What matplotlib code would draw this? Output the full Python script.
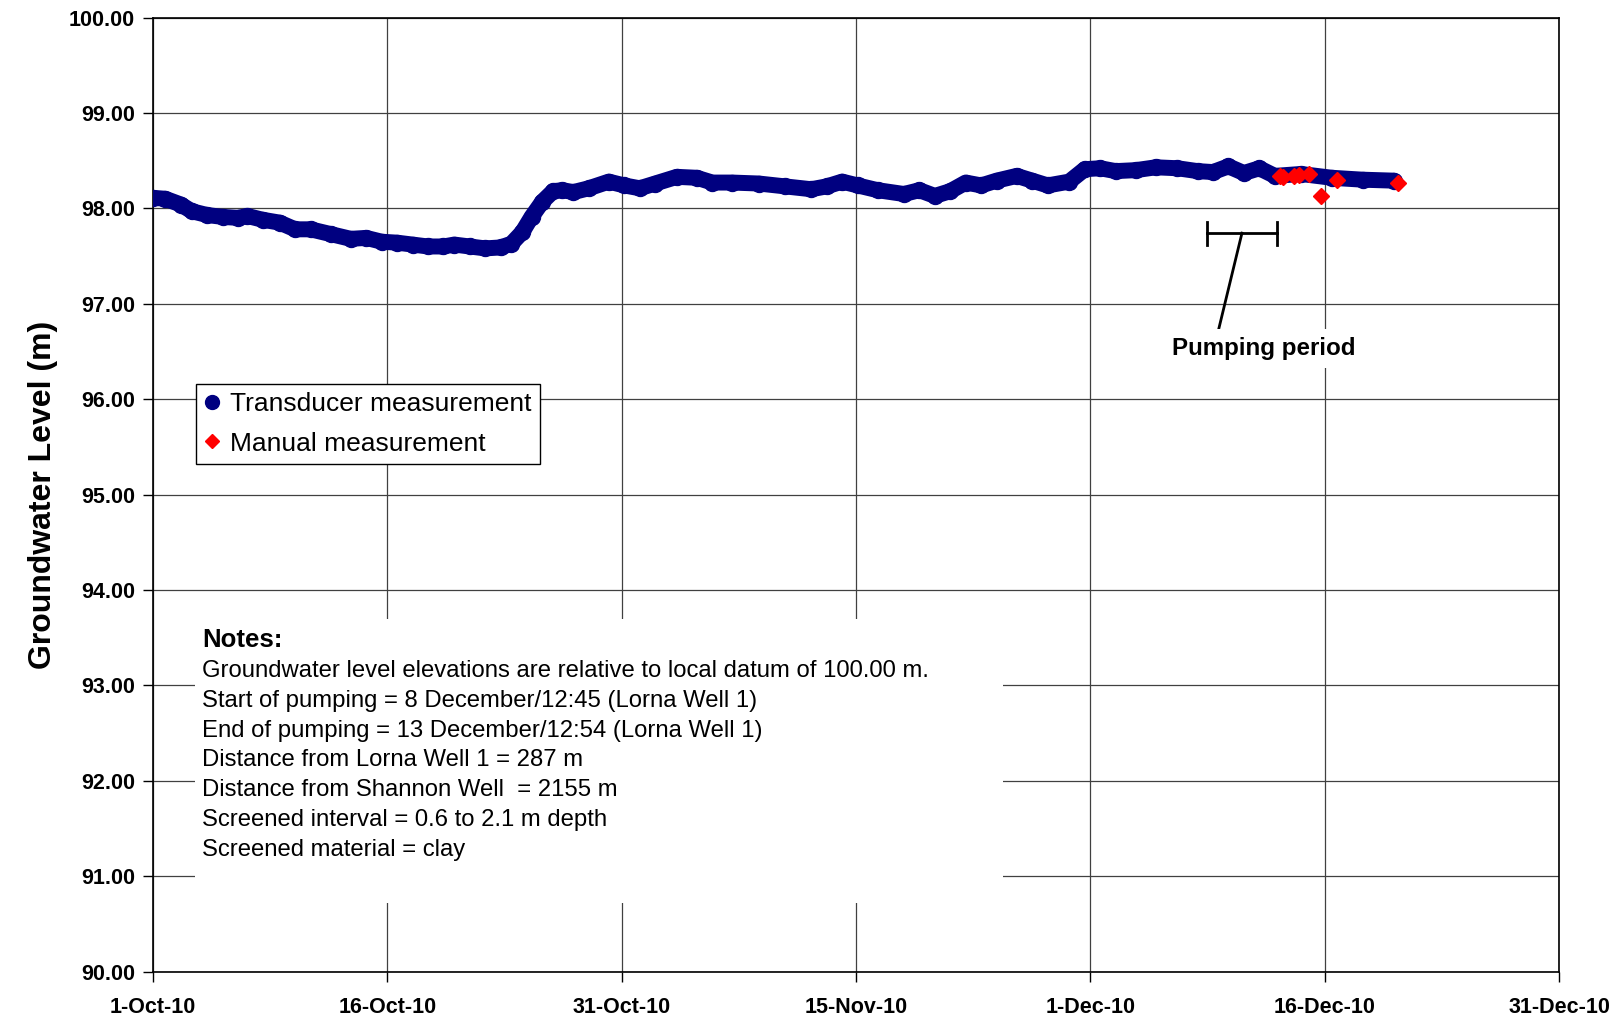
import matplotlib
matplotlib.use('Agg')
import matplotlib.pyplot as plt
from matplotlib.lines import Line2D
from matplotlib.patches import Rectangle

plt.rcParams['font.family'] = ['Liberation Sans', 'DejaVu Sans']

# days since 1-Oct-10 00:00
transducer_day = [0.0, 0.8, 1.8, 2.5, 3.5, 4.5, 5.5, 6.1, 7.1, 8.2, 9.2, 10.2,
                  11.5, 12.8, 13.8, 14.8, 15.8, 16.8, 17.8, 18.8, 19.5, 20.5,
                  21.5, 22.5, 23.2, 23.9, 24.5, 25.2, 25.9, 26.5, 27.2, 28.2,
                  29.5, 30.5, 31.5, 32.5, 33.9, 35.2, 36.2, 37.5, 39.2, 40.9,
                  42.6, 43.6, 44.6, 45.6, 46.9, 48.6, 49.6, 50.6, 51.6, 52.6,
                  53.6, 54.6, 55.9, 56.9, 57.9, 59.3, 60.3, 61.3, 62.3, 63.6,
                  64.9, 66.3, 67.6, 68.6, 69.6, 70.6, 71.6, 72.6, 74.3, 76.3,
                  78.3, 80.3]
transducer_level = [98.11, 98.10, 98.04, 97.97, 97.93, 97.91, 97.90, 97.92,
                    97.88, 97.85, 97.78, 97.78, 97.73, 97.68, 97.69, 97.65,
                    97.64, 97.62, 97.60, 97.60, 97.62, 97.60, 97.58, 97.59,
                    97.63, 97.75, 97.91, 98.07, 98.18, 98.19, 98.17, 98.21,
                    98.28, 98.24, 98.21, 98.26, 98.33, 98.32, 98.27, 98.27,
                    98.26, 98.23, 98.20, 98.23, 98.28, 98.24, 98.19, 98.15,
                    98.19, 98.13, 98.18, 98.27, 98.24, 98.29, 98.34, 98.29,
                    98.24, 98.28, 98.41, 98.42, 98.39, 98.40, 98.43, 98.42,
                    98.39, 98.38, 98.44, 98.37, 98.42, 98.34, 98.36, 98.32,
                    98.30, 98.29]

manual_day = [72.94, 73.11, 73.83, 74.16, 74.83, 75.61, 76.64, 80.57]
manual_level = [98.34, 98.33, 98.34, 98.35, 98.36, 98.13, 98.30, 98.27]

# pumping period bracket, as drawn on the chart (days)
pump_start = 68.2
pump_end = 72.75

tick_labels = ['1-Oct-10', '16-Oct-10', '31-Oct-10', '15-Nov-10',
               '1-Dec-10', '16-Dec-10', '31-Dec-10']

notes = ['Groundwater level elevations are relative to local datum of 100.00 m.',
         'Start of pumping = 8 December/12:45 (Lorna Well 1)',
         'End of pumping = 13 December/12:54 (Lorna Well 1)',
         'Distance from Lorna Well 1 = 287 m',
         'Distance from Shannon Well  = 2155 m',
         'Screened interval = 0.6 to 2.1 m depth',
         'Screened material = clay']

navy = '#000080'

fig = plt.figure(figsize=(16.19, 10.18), dpi=100)
ax = fig.add_axes([0.0945, 0.0456, 0.8685, 0.9372])

ax.plot(transducer_day, transducer_level, color=navy, lw=11.5, marker='o',
        ms=11.5, solid_capstyle='round', solid_joinstyle='round', zorder=3)
ax.plot(manual_day, manual_level, linestyle='none', marker='D', ms=8,
        color='#ff0000', mec='#ff0000', zorder=4)

ax.set_xlim(0, 91)
ax.set_ylim(90, 100)
ax.set_xticks([i * 91 / 6 for i in range(7)])
ax.set_xticklabels(tick_labels, fontsize=15.5, fontweight='bold',
                   family=['Liberation Sans Narrow', 'Liberation Sans'])
ax.set_yticks(range(90, 101))
ax.set_yticklabels(['%.2f' % v for v in range(90, 101)], fontsize=15.5,
                   fontweight='bold')
ax.tick_params(axis='x', direction='out', length=7, width=1, pad=11)
ax.tick_params(axis='y', direction='out', length=7, width=1, pad=6)
ax.set_ylabel('Groundwater Level (m)', fontsize=23, fontweight='bold',
              labelpad=8)

ax.set_axisbelow(True)
ax.grid(True, color='#404040', lw=0.9)
for s in ax.spines.values():
    s.set_linewidth(1.2)

# white box behind the notes
ax.add_patch(Rectangle((0.0299, 0.0719), 0.5747, 0.2977, transform=ax.transAxes,
                       facecolor='white', edgecolor='none', zorder=1))
ax.text(3.2, 93.48, 'Notes:', fontsize=18.5, fontweight='bold', va='center',
        zorder=5)
for i, line in enumerate(notes):
    ax.text(3.2, 93.15 - i * 0.312, line, fontsize=17.2, va='center', zorder=5)

# pumping period bracket
ax.plot([pump_start, pump_end], [97.74, 97.74], color='black', lw=2, zorder=5)
ax.plot([pump_start, pump_start], [97.62, 97.86], color='black', lw=2, zorder=5)
ax.plot([pump_end, pump_end], [97.62, 97.86], color='black', lw=2, zorder=5)
ax.plot([(pump_start + pump_end) / 2, 68.95], [97.74, 96.72], color='black',
        lw=2, zorder=5)
ax.text(71.9, 96.53, 'Pumping period', fontsize=17.4, fontweight='bold',
        ha='center', va='center', zorder=5,
        bbox=dict(facecolor='white', edgecolor='none', pad=6))

handles = [Line2D([], [], linestyle='none', marker='o', ms=10, color=navy),
           Line2D([], [], linestyle='none', marker='D', ms=7, color='#ff0000')]
leg = ax.legend(handles, ['Transducer measurement', 'Manual measurement'],
                loc='upper left', bbox_to_anchor=(0.0306, 0.616),
                borderaxespad=0, fontsize=19, fancybox=False,
                framealpha=1, edgecolor='black', handlelength=0.6,
                handletextpad=0.4, borderpad=0.3, labelspacing=0.6)
leg.get_frame().set_linewidth(1)

fig.savefig('out.png', dpi=100)
